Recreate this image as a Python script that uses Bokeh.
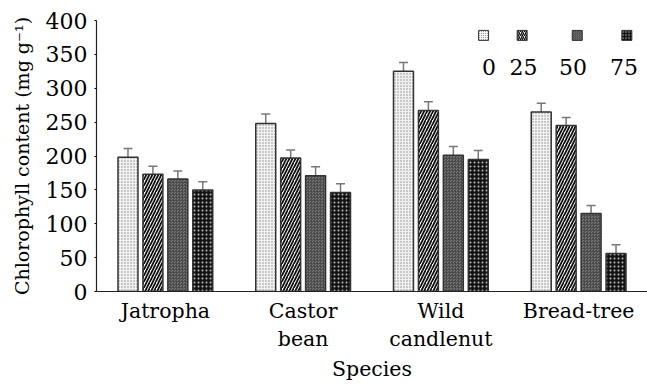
from bokeh.plotting import figure
from bokeh.models import Range1d, FixedTicker, ColumnDataSource, Whisker, TeeHead
from bokeh.core.properties import value
from bokeh.embed import file_html
from bokeh.resources import INLINE

species = ["Jatropha", "Castor\nbean", "Wild\ncandlenut", "Bread-tree"]
levels = ["0", "25", "50", "75"]
v0 = [198, 248, 325, 265]
v25 = [173, 197, 267, 245]
v50 = [166, 171, 201, 115]
v75 = [150, 146, 195, 56]
e0 = [13, 14, 13, 13]
e25 = [12, 12, 13, 12]
e50 = [12, 13, 13, 12]
e75 = [12, 13, 13, 13]
y_ticks = [0, 50, 100, 150, 200, 250, 300, 350, 400]

FONT = "DejaVu Serif"

p = figure(width=647, height=384, output_backend="svg", toolbar_location=None,
           x_range=Range1d(0, 4), y_range=Range1d(0, 400),
           min_border_left=96, min_border_right=0, min_border_top=20, min_border_bottom=92)
p.outline_line_color = None
p.xgrid.visible = False
p.ygrid.visible = False
p.background_fill_color = "white"

styles = [
    dict(fill_color="#f2f2f2", hatch_pattern="dot", hatch_color="#8a8a8a", hatch_scale=3, hatch_weight=1),
    dict(fill_color="white", hatch_pattern="right_diagonal_line", hatch_color="#111111", hatch_scale=6, hatch_weight=1.8),
    dict(fill_color="#7c7c7c", hatch_pattern="criss_cross", hatch_color="#484848", hatch_scale=3, hatch_weight=0.8),
    dict(fill_color="#141414", hatch_pattern="dot", hatch_color="#bbbbbb", hatch_scale=4, hatch_weight=1),
]
legend_hatch = [dict(hatch_scale=2, hatch_weight=1), dict(hatch_scale=4, hatch_weight=1.4),
                dict(hatch_scale=2, hatch_weight=0.8), dict(hatch_scale=3, hatch_weight=1)]
series = [v0, v25, v50, v75]
errs = [e0, e25, e50, e75]
pitch = 0.181
width = 0.145
for i, (vals, er, st) in enumerate(zip(series, errs, styles)):
    xs = [k + 0.5 + (i - 1.5) * pitch for k in range(len(species))]
    src = ColumnDataSource(dict(x=xs, top=vals,
                                upper=[a + b for a, b in zip(vals, er)],
                                lower=[a - b for a, b in zip(vals, er)]))
    p.vbar(x="x", top="top", width=width, source=src, line_color="#333333", line_width=1.5, **st)
    w = Whisker(base="x", upper="upper", lower="lower", source=src, line_color="#777777", line_width=1.5,
                upper_head=TeeHead(size=9, line_color="#777777", line_width=1.5),
                lower_head=TeeHead(size=9, line_color="#777777", line_width=1.5))
    p.add_layout(w)

# legend (squares above labels)
leg_sq_x = [2.81, 3.09, 3.49, 3.85]
leg_lab_x = [2.85, 3.10, 3.46, 3.83]
for i, st in enumerate(styles):
    kw = {k: v for k, v in st.items() if k not in ("hatch_scale", "hatch_weight")}
    kw.update(legend_hatch[i])
    p.scatter([leg_sq_x[i]], [378], marker="square", size=10, line_color="#333333", line_width=1, **kw)
p.text(x=leg_lab_x, y=[331] * 4, text=levels, text_align="center", text_baseline="middle",
       text_font=value(FONT), text_font_size="22px", text_color="black")

p.yaxis.ticker = FixedTicker(ticks=y_ticks)
p.yaxis.major_label_text_font = FONT
p.yaxis.major_label_text_font_size = "22px"
p.yaxis.major_label_text_color = "black"
p.yaxis.major_tick_in = 0
p.yaxis.major_tick_out = 2
p.yaxis.minor_tick_out = 0
p.yaxis.minor_tick_in = 0
p.yaxis.major_label_standoff = 7
p.yaxis.axis_line_color = "#222222"
p.yaxis.axis_line_width = 1.2
p.yaxis.axis_label = "Chlorophyll content (mg g\u207b\u00b9)"
p.yaxis.axis_label_text_font = FONT
p.yaxis.axis_label_text_font_size = "19px"
p.yaxis.axis_label_text_font_style = "normal"
p.yaxis.axis_label_text_color = "black"
p.yaxis.axis_label_standoff = 10

p.xaxis.ticker = FixedTicker(ticks=[k + 0.5 for k in range(len(species))])
p.xaxis.major_label_overrides = {k + 0.5: s for k, s in enumerate(species)}
p.xaxis.major_label_text_font = FONT
p.xaxis.major_label_text_font_size = "20.5px"
p.xaxis.major_label_text_color = "black"
p.xaxis.major_tick_in = 0
p.xaxis.major_tick_out = 0
p.xaxis.minor_tick_out = 0
p.xaxis.minor_tick_in = 0
p.xaxis.major_label_standoff = 7
p.xaxis.axis_line_color = "#222222"
p.xaxis.axis_line_width = 1.2
p.xaxis.axis_label = "Species"
p.xaxis.axis_label_text_font = FONT
p.xaxis.axis_label_text_font_size = "20.5px"
p.xaxis.axis_label_text_font_style = "normal"
p.xaxis.axis_label_text_color = "black"
p.xaxis.axis_label_standoff = 3

open("out.html", "w").write(file_html(p, INLINE))
